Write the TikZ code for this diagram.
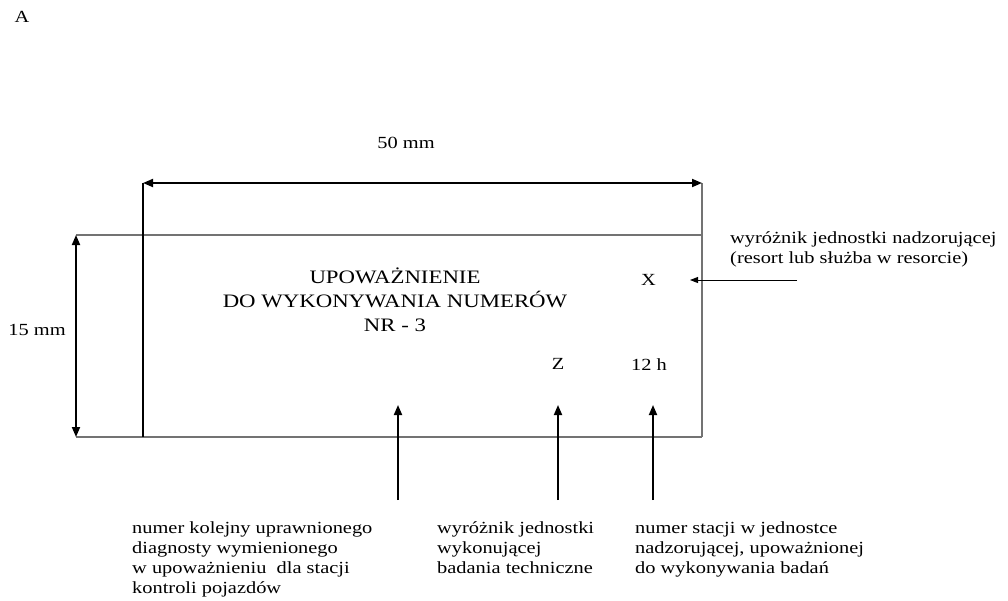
\documentclass[tikz,border=0pt]{standalone}
\usepackage{fontspec}
\setmainfont[FakeStretch=1.2]{Liberation Serif}
\usetikzlibrary{arrows.meta}
\begin{document}
\begin{tikzpicture}[x=1pt,y=-1pt,
  tip/.tip={Triangle[length=10pt,width=8pt]},
  smalltip/.tip={Triangle[length=8pt,width=6pt]},
  dimline/.style={line width=1.8pt, black, tip-tip},
  pointer/.style={line width=1.8pt, black, -tip},
  thinpointer/.style={line width=1pt, black, -smalltip},
  frameline/.style={line width=1.4pt, black!55},
  edgeline/.style={line width=1.3pt, black},
  lbl/.style={inner sep=0pt, font=\fontsize{17}{20}\selectfont},
  ttl/.style={inner sep=0pt, align=center, font=\fontsize{19}{24}\selectfont},
  note/.style={inner sep=0pt, align=left, anchor=north west, font=\fontsize{17}{20}\selectfont}
]
\useasboundingbox (0,0) rectangle (1008,600);

% coordinates of the plate
\coordinate (tl) at (143,235);
\coordinate (bl) at (143,437);
\coordinate (tr) at (702,235);
\coordinate (br) at (702,437);
\coordinate (dimL) at (143,183);
\coordinate (dimR) at (702,183);
\coordinate (extT) at (76,235);
\coordinate (extB) at (76,437);

% frame
\draw[frameline] (extT) -- (tr);
\draw[frameline] (extB) -- (br);
\draw[frameline] (dimR) -- (br);
\draw[edgeline] (dimL) -- (bl);

% dimensions
\draw[dimline] (dimL) -- (dimR);
\draw[dimline] (extT) -- (extB);

% labels
\node[lbl, anchor=base] (A) at (22,22) {A};
\node[lbl] (w50) at (406,143) {50 mm};
\node[lbl] (h15) at (37,330) {15 mm};

\node[ttl] (title) at (395,299.5) {UPOWAŻNIENIE\\DO WYKONYWANIA NUMERÓW\\NR - 3};
\node[lbl, anchor=base] (X) at (648.5,285) {X};
\node[lbl, anchor=base] (Z) at (558,369) {Z};
\node[lbl, anchor=base] (h12) at (649,370) {12 h};

% notes
\node[note] (nX) at (730,231) {wyróżnik jednostki nadzorującej\\(resort lub służba w resorcie)};
\node[note] (n1) at (132,521) {numer kolejny uprawnionego\\diagnosty wymienionego\\w upoważnieniu\ \ dla stacji\\kontroli pojazdów};
\node[note] (n2) at (437,521) {wyróżnik jednostki\\wykonującej\\badania techniczne};
\node[note] (n3) at (635,521) {numer stacji w jednostce\\nadzorującej, upoważnionej\\do wykonywania badań};

% pointers
\coordinate (xs) at (797,280);
\coordinate (xe) at (690,280);
\draw[thinpointer] (xs) -- (xe);

\coordinate (p1s) at (398,500);
\coordinate (p1e) at (398,405);
\coordinate (p2s) at (558,500);
\coordinate (p2e) at (558,405);
\coordinate (p3s) at (653,500);
\coordinate (p3e) at (653,405);
\draw[pointer] (p1s) -- (p1e);
\draw[pointer] (p2s) -- (p2e);
\draw[pointer] (p3s) -- (p3e);
\end{tikzpicture}
\end{document}
